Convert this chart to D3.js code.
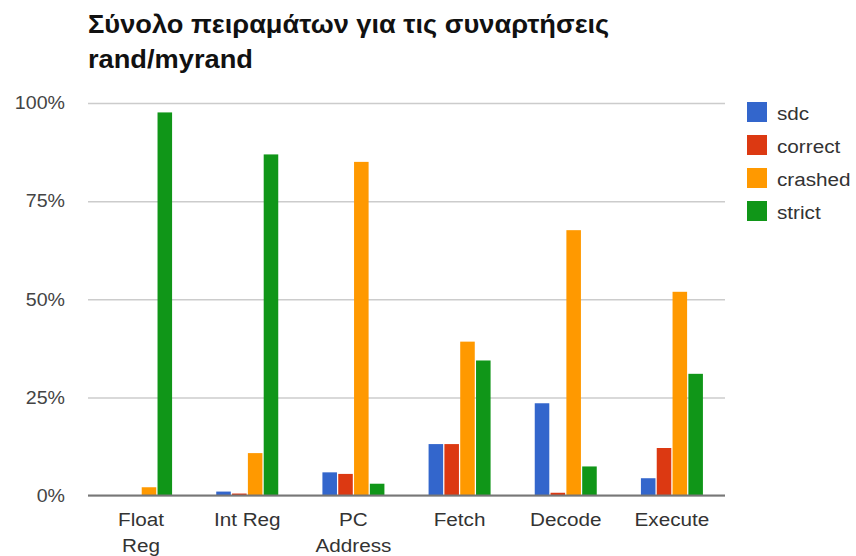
<!DOCTYPE html>
<html>
<head>
<meta charset="utf-8">
<script src="https://cdn.jsdelivr.net/npm/d3@7"></script>
<style>
  html, body { margin: 0; padding: 0; background: #fff; }
  svg { display: block; font-family: "Liberation Sans", Arial, sans-serif; }
</style>
</head>
<body>
<svg id="chart" width="856" height="556"></svg>
<script>
// Outcome shares (%) per injection target
const categories = [["Float", "Reg"], ["Int Reg"], ["PC", "Address"], ["Fetch"], ["Decode"], ["Execute"]];
const seriesNames = ["sdc", "correct", "crashed", "strict"];
const seriesColors = ["#3366cc", "#dc3912", "#ff9900", "#109618"];
const sdc     = [0.0, 1.0, 5.9, 13.1, 23.5, 4.4];
const correct = [0.0, 0.5, 5.5, 13.1, 0.7, 12.1];
const crashed = [2.1, 10.8, 85.0, 39.2, 67.6, 51.9];
const strict  = [97.6, 86.9, 3.0, 34.4, 7.4, 31.0];
const yTicks = [0, 25, 50, 75, 100];
const titleLines = ["Σύνολο πειραμάτων για τις συναρτήσεις", "rand/myrand"];

const series = [sdc, correct, crashed, strict];
const svg = d3.select("#chart");

// slightly widened lettering
const SX = 1.09;
const stretch = (x, y) => `translate(${x},${y}) scale(${SX},1)`;

const plot = { left: 88, right: 725, top: 103, bottom: 495.5 };

const x0 = d3.scaleBand()
  .domain(categories.map((c, i) => i))
  .range([plot.left, plot.right]);
const groupW = 62;
const x1 = d3.scaleBand()
  .domain(seriesNames)
  .range([0, groupW])
  .paddingInner(0.08);
const y = d3.scaleLinear().domain([0, 100]).range([plot.bottom, plot.top]);

// Title
svg.append("g").selectAll("text")
  .data(titleLines)
  .join("text")
  .attr("transform", (d, i) => stretch(88, 33 + i * 35))
  .attr("font-size", 25)
  .attr("font-weight", "bold")
  .attr("fill", "#111")
  .text(d => d);

// Gridlines + y labels
const yAxis = d3.axisLeft(y)
  .tickValues(yTicks)
  .tickSize(-(plot.right - plot.left))
  .tickFormat(d => d + "%");
const gy = svg.append("g")
  .attr("transform", `translate(${plot.left},0)`)
  .call(yAxis);
gy.select(".domain").remove();
gy.selectAll(".tick line").attr("stroke", "#cccccc").attr("stroke-width", 1.5);
gy.selectAll(".tick text")
  .attr("x", 0)
  .attr("transform", stretch(-23, 0))
  .attr("font-size", 18)
  .attr("fill", "#444")
  .attr("font-family", "Liberation Sans, Arial, sans-serif");

// Bars
const groups = svg.append("g").selectAll("g")
  .data(categories.map((c, i) => i))
  .join("g")
  .attr("transform", i => `translate(${x0(i) + x0.bandwidth() / 2 - groupW / 2},0)`);

groups.selectAll("rect")
  .data(i => seriesNames.map((s, k) => ({ s, k, v: series[k][i] })))
  .join("rect")
  .attr("x", d => x1(d.s))
  .attr("width", x1.bandwidth())
  .attr("y", d => y(d.v))
  .attr("height", d => plot.bottom - y(d.v))
  .attr("fill", d => seriesColors[d.k]);

// Baseline
svg.append("line")
  .attr("x1", plot.left).attr("x2", plot.right)
  .attr("y1", y(0)).attr("y2", y(0))
  .attr("stroke", "#777").attr("stroke-width", 2);

// Category labels
const xl = svg.append("g").selectAll("text")
  .data(categories.map((c, i) => ({ c, i })))
  .join("text")
  .attr("transform", d => stretch(x0(d.i) + x0.bandwidth() / 2, 526))
  .attr("text-anchor", "middle")
  .attr("font-size", 19)
  .attr("fill", "#333");
xl.selectAll("tspan")
  .data(d => d.c)
  .join("tspan")
  .attr("x", 0)
  .attr("dy", (d, j) => j === 0 ? 0 : 26)
  .text(d => d);

// Legend
const lg = svg.append("g").selectAll("g")
  .data(seriesNames)
  .join("g")
  .attr("transform", (d, i) => `translate(747,${102 + i * 33})`);
lg.append("rect")
  .attr("width", 20).attr("height", 20)
  .attr("fill", (d, i) => seriesColors[i]);
lg.append("text")
  .attr("transform", stretch(30, 18))
  .attr("font-size", 19)
  .attr("fill", "#333")
  .text(d => d);
</script>
</body>
</html>
